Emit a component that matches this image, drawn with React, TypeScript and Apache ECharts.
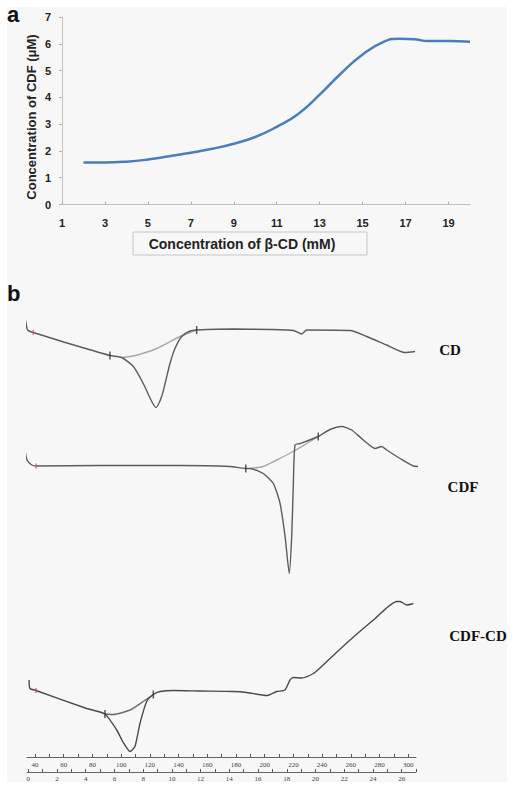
import React, { useEffect, useRef } from "react";
import * as echarts from "echarts";

// Panel a: CDF concentration vs beta-CD concentration
const cdConc = [2, 3, 4, 5, 6, 7, 8, 9, 10, 11, 12, 13, 14, 15, 16, 16.7, 17.5, 18, 19, 20];
const cdfConc = [1.57, 1.57, 1.6, 1.68, 1.8, 1.93, 2.08, 2.27, 2.52, 2.9, 3.38, 4.1, 4.9, 5.6, 6.08, 6.19, 6.16, 6.1, 6.1, 6.08];
const xTicksA = [1, 3, 5, 7, 9, 11, 13, 15, 17, 19];

// Panel b: DSC thermograms, [temperature °C, heat flow (arb.)]
const cdMain: [number, number][] = [
  [33.0, 88.1], [34.6, 85.5], [36.5, 85.1], [38.8, 84.9], [60, 83.0], [92.2, 80.3], [100.4, 79.9],
  [108.5, 78.1], [115.4, 74.7], [121.3, 71.1], [124.3, 69.9], [128.2, 72.1], [131.2, 75.4],
  [134.0, 78.7], [137.5, 81.7], [142.2, 84.1], [148.0, 85.2], [152.6, 85.4], [177.9, 85.6],
  [203.7, 85.5], [220.0, 85.3], [225.8, 84.6], [229.3, 85.4], [259.4, 85.3], [271.1, 84.1],
  [285.0, 82.4], [297.7, 80.9], [304.7, 81.1],
];
const cdBase: [number, number][] = [
  [100.4, 79.9], [108.5, 80.2], [124.8, 81.7], [141.0, 84.1], [152.6, 85.4],
];
const cdfMain: [number, number][] = [
  [33.0, 61.4], [34.4, 59.4], [37.7, 58.4], [40.7, 58.2], [85.3, 58.3], [141.0, 58.3], [175.8, 58.1],
  [186.8, 57.7], [189.8, 57.7], [199.0, 56.7], [206.0, 54.7], [210.7, 50.7], [214.2, 44.1],
  [217.1, 36.7], [218.8, 44.1], [219.9, 54.1], [221.1, 62.4], [224.6, 62.7], [237.3, 64.1],
  [245.5, 65.5], [253.6, 66.1], [260.6, 65.4], [268.7, 63.4], [276.8, 61.7], [281.5, 62.1],
  [285.0, 61.4], [294.3, 59.7], [303.5, 58.2], [308.2, 58.1],
];
const cdfBase: [number, number][] = [
  [189.8, 57.7], [199.0, 58.1], [208.4, 59.4], [219.9, 61.1], [229.3, 62.7], [237.3, 64.1],
];
const mixMain: [number, number][] = [
  [35.8, 15.4], [36.5, 13.7], [40.7, 13.3], [76.0, 9.7], [88.7, 8.6], [96.9, 5.4], [101.3, 3.0],
  [106.2, 1.1], [109.6, 2.1], [113.1, 6.7], [117.8, 11.1], [122.4, 12.5], [127.1, 13.1],
  [136.3, 13.3], [154.9, 13.2], [178.1, 13.1], [187.5, 12.9], [201.4, 12.3], [208.4, 13.1],
  [214.1, 13.4], [217.6, 15.4], [219.9, 15.9], [225.8, 15.8], [233.9, 16.7], [238.5, 17.8],
  [257.1, 22.8], [275.7, 27.4], [292.0, 31.1], [294.3, 31.1], [299.0, 30.4], [303.5, 30.7],
];
const mixBase: [number, number][] = [
  [88.7, 8.6], [94.5, 8.5], [106.2, 9.4], [115.4, 11.1], [122.4, 12.5],
];
const onsetMarks: [number, number][] = [
  [92.2, 80.3], [152.6, 85.4], [186.8, 57.7], [237.3, 64.1], [88.7, 8.6], [122.4, 12.5],
];
const startMarks: [number, number][] = [[38.8, 84.9], [40.7, 58.2], [40.7, 13.3]];
const curveNames = ["CD", "CDF", "CDF-CD"];
const tempTicks = [40, 50, 60, 70, 80, 90, 100, 110, 120, 130, 140, 150, 160, 170, 180, 190, 200, 210, 220, 230, 240, 250, 260, 270, 280, 290, 300];
const tempLabels = [40, 60, 80, 100, 120, 140, 160, 180, 200, 220, 240, 260, 280, 300];
const timeTicks = [0, 1, 2, 3, 4, 5, 6, 7, 8, 9, 10, 11, 12, 13, 14, 15, 16, 17, 18, 19, 20, 21, 22, 23, 24, 25, 26, 27];
const timeLabels = [0, 2, 4, 6, 8, 10, 12, 14, 16, 18, 20, 22, 24, 26];

export default function App() {
  const ref = useRef<HTMLDivElement>(null);
  useEffect(() => {
    if (!ref.current) return;
    const chart = echarts.init(ref.current, undefined, { renderer: "svg" });
    const sansBold = { fontFamily: "Liberation Sans", fontWeight: "bold" as const };
    const traceLine = (data: [number, number][], color: string, z = 2) => ({
      type: "line" as const,
      xAxisIndex: 1,
      yAxisIndex: 1,
      data,
      showSymbol: false,
      symbol: "none",
      smooth: 0.2,
      clip: false,
      z,
      lineStyle: { color, width: 1.4 },
    });
    chart.setOption({
      animation: false,
      backgroundColor: "#ffffff",
      graphic: [
        { type: "rect", z: -10, shape: { x: 7, y: 7, width: 500, height: 775 }, style: { fill: "#f7f7f7" } },
        { type: "text", left: 7, top: 3, style: { text: "a", font: "bold 22px 'Liberation Sans'", fill: "#111" } },
        { type: "text", left: 7, top: 282, style: { text: "b", font: "bold 22px 'Liberation Sans'", fill: "#111" } },
        { type: "rect", shape: { x: 133, y: 232, width: 234, height: 23 }, style: { fill: "none", stroke: "#c6c6c6", lineWidth: 1 } },
        { type: "text", x: 242, y: 244, style: { text: "Concentration of β-CD (mM)", font: "bold 14px 'Liberation Sans'", fill: "#222", align: "center", verticalAlign: "middle" } },
        { type: "text", x: 31, y: 117, rotation: Math.PI / 2, style: { text: "Concentration of CDF (μM)", font: "bold 13px 'Liberation Sans'", fill: "#222", align: "center", verticalAlign: "middle" } },
        { type: "text", x: 450, y: 350, style: { text: curveNames[0], font: "bold 15px 'Liberation Serif'", fill: "#111", align: "center", verticalAlign: "middle" } },
        { type: "text", x: 463, y: 487, style: { text: curveNames[1], font: "bold 15px 'Liberation Serif'", fill: "#111", align: "center", verticalAlign: "middle" } },
        { type: "text", x: 478, y: 636, style: { text: curveNames[2], font: "bold 15px 'Liberation Serif'", fill: "#111", align: "center", verticalAlign: "middle" } },
      ],
      grid: [
        { left: 62, right: 46, top: 17, height: 187.5 },
        { left: 27, right: 100, top: 297, bottom: 33 },
      ],
      xAxis: [
        {
          type: "value", gridIndex: 0, min: 1, max: 20,
          splitLine: { show: false },
          axisLine: { lineStyle: { color: "#c0c0c0" } },
          axisTick: { inside: true, length: 3, lineStyle: { color: "#b0b0b0" }, customValues: xTicksA },
          axisLabel: { ...sansBold, fontSize: 11, color: "#222", margin: 13, customValues: xTicksA },
        },
        {
          type: "value", gridIndex: 1, min: 34.4, max: 305.4, position: "bottom",
          splitLine: { show: false },
          axisLine: { lineStyle: { color: "#666", width: 1 } },
          axisTick: { inside: true, length: 3, lineStyle: { color: "#555" }, customValues: tempTicks },
          axisLabel: { fontFamily: "Liberation Serif", fontSize: 7, color: "#444", margin: 4, customValues: tempLabels },
        },
        {
          type: "value", gridIndex: 1, min: -0.09, max: 27.0, position: "bottom", offset: 15,
          splitLine: { show: false },
          axisLine: { lineStyle: { color: "#666", width: 1 } },
          axisTick: { inside: true, length: 3, lineStyle: { color: "#555" }, customValues: timeTicks },
          axisLabel: { fontFamily: "Liberation Serif", fontSize: 7, color: "#444", margin: 3, customValues: timeLabels },
        },
      ],
      yAxis: [
        {
          type: "value", gridIndex: 0, min: 0, max: 7, interval: 1,
          splitLine: { show: false },
          axisLine: { show: true, lineStyle: { color: "#c0c0c0" } },
          axisTick: { show: true, length: 3, lineStyle: { color: "#b0b0b0" } },
          axisLabel: { ...sansBold, fontSize: 11, color: "#222", margin: 11 },
        },
        { type: "value", gridIndex: 1, min: 0, max: 92, show: false },
      ],
      series: [
        {
          type: "line", xAxisIndex: 0, yAxisIndex: 0,
          data: cdConc.map((x, i) => [x, cdfConc[i]]),
          smooth: true, showSymbol: false, symbol: "none",
          lineStyle: { color: "#4a7ebb", width: 2.5 },
        },
        traceLine(cdBase, "#a8a8a8", 1),
        traceLine(cdMain, "#5c5c5c", 2),
        traceLine(cdfBase, "#a8a8a8", 1),
        traceLine(cdfMain, "#5c5c5c", 2),
        traceLine(mixBase, "#6a6a6a", 1),
        traceLine(mixMain, "#4a4a4a", 2),
        {
          type: "scatter", xAxisIndex: 1, yAxisIndex: 1, data: onsetMarks,
          symbol: "rect", symbolSize: [1.5, 8], itemStyle: { color: "#333" }, z: 5, clip: false,
        },
        {
          type: "scatter", xAxisIndex: 1, yAxisIndex: 1, data: startMarks,
          symbol: "rect", symbolSize: [1.5, 5], itemStyle: { color: "#e05050" }, z: 5, clip: false,
        },
      ],
    });
    return () => chart.dispose();
  }, []);
  return <div ref={ref} style={{ position: "absolute", left: 0, top: 0, width: 516, height: 790 }} />;
}
